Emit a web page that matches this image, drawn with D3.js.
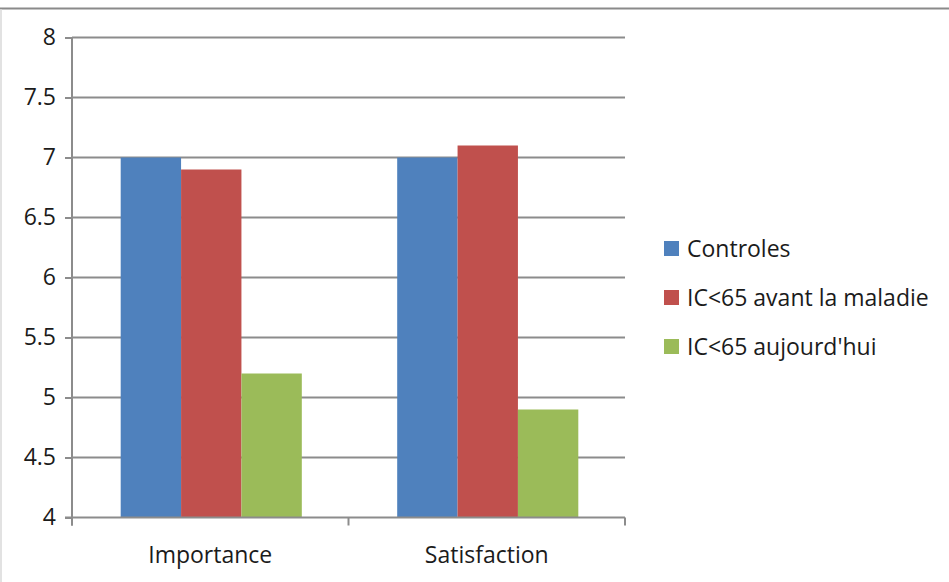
<!DOCTYPE html>
<html>
<head>
<meta charset="utf-8">
<script src="https://cdn.jsdelivr.net/npm/d3@7"></script>
<style>
  html, body { margin: 0; padding: 0; background: #fff; }
  svg { display: block; }
  text { font-family: "Open Sans", "Liberation Sans", sans-serif; fill: #1b1b1b; }
</style>
</head>
<body>
<svg id="chart" width="949" height="582"></svg>
<script>
const categories = ["Importance", "Satisfaction"];
const seriesNames = ["Controles", "IC<65 avant la maladie", "IC<65 aujourd'hui"];
const controles = [7.0, 7.0];
const avantMaladie = [6.9, 7.1];
const aujourdhui = [5.2, 4.9];
const yTicks = [4, 4.5, 5, 5.5, 6, 6.5, 7, 7.5, 8];
const colors = ["#4F81BD", "#C0504D", "#9BBB59"];

const seriesValues = [controles, avantMaladie, aujourdhui];
const svg = d3.select("#chart");
const W = 949, H = 582;

// frame
svg.append("line").attr("x1", 0).attr("x2", W).attr("y1", 8.5).attr("y2", 8.5)
  .attr("stroke", "#8a8a8a").attr("stroke-width", 2);
svg.append("line").attr("x1", 1).attr("x2", 1).attr("y1", 9).attr("y2", H)
  .attr("stroke", "#d9d9d9").attr("stroke-width", 1.5);

const plot = { left: 72, right: 625, top: 37.5, bottom: 517.5 };

const x = d3.scaleBand().domain(categories).range([plot.left, plot.right]).paddingInner(0).paddingOuter(0);
const y = d3.scaleLinear().domain([4, 8]).range([plot.bottom, plot.top]);
const groupFrac = 0.655;
const xs = d3.scaleBand().domain(seriesNames)
  .range([x.bandwidth() * (1 - groupFrac) / 2 + 1, x.bandwidth() * (1 + groupFrac) / 2 + 1]);

// gridlines
svg.append("g").selectAll("line").data(yTicks.filter(d => d !== 4)).join("line")
  .attr("x1", plot.left).attr("x2", plot.right)
  .attr("y1", d => y(d)).attr("y2", d => y(d))
  .attr("stroke", "#8c8c8c").attr("stroke-width", 2);

// bars
const groups = svg.append("g").selectAll("g").data(categories).join("g")
  .attr("transform", c => `translate(${x(c)},0)`);
groups.selectAll("rect")
  .data((c, ci) => seriesNames.map((s, si) => ({ s, si, v: seriesValues[si][ci] })))
  .join("rect")
  .attr("x", d => xs(d.s))
  .attr("width", xs.bandwidth())
  .attr("y", d => y(d.v))
  .attr("height", d => y(4) - y(d.v))
  .attr("fill", d => colors[d.si]);

// y axis
const yAxis = svg.append("g").attr("transform", `translate(${plot.left},0)`)
  .call(d3.axisLeft(y).tickValues(yTicks).tickFormat(d3.format("")).tickSize(7).tickPadding(9));
yAxis.select(".domain").attr("stroke", "#8c8c8c").attr("stroke-width", 2)
  .attr("d", `M0,${plot.top}V${plot.bottom + 8}`);
yAxis.selectAll(".tick line").attr("stroke", "#8c8c8c").attr("stroke-width", 2);
yAxis.selectAll(".tick text").style("font-size", "23px").attr("fill", "#1b1b1b").attr("dy", "0.3em");

// x axis
const xAxis = svg.append("g").attr("transform", `translate(0,${plot.bottom})`)
  .call(d3.axisBottom(x).tickSize(0).tickPadding(0));
xAxis.select(".domain").attr("stroke", "#8c8c8c").attr("stroke-width", 2)
  .attr("d", `M${plot.left - 7},0H${plot.right}`);
xAxis.selectAll(".tick text").style("font-size", "23px").attr("fill", "#1b1b1b")
  .attr("y", 0).attr("dy", "1.97em");
// category boundary ticks
const boundaries = [plot.left, ...categories.map(c => x(c) + x.bandwidth())];
xAxis.append("g").selectAll("line").data(boundaries).join("line")
  .attr("x1", d => d).attr("x2", d => d).attr("y1", 0).attr("y2", 8)
  .attr("stroke", "#8c8c8c").attr("stroke-width", 2);

// legend
const legend = svg.append("g").attr("transform", "translate(664,241)");
const li = legend.selectAll("g").data(seriesNames).join("g")
  .attr("transform", (d, i) => `translate(0,${i * 49})`);
li.append("rect").attr("width", 15).attr("height", 15).attr("fill", (d, i) => colors[i]);
li.append("text").attr("x", 23).attr("y", 8).attr("dy", "0.35em")
  .style("font-size", "23px").text(d => d);
</script>
</body>
</html>
